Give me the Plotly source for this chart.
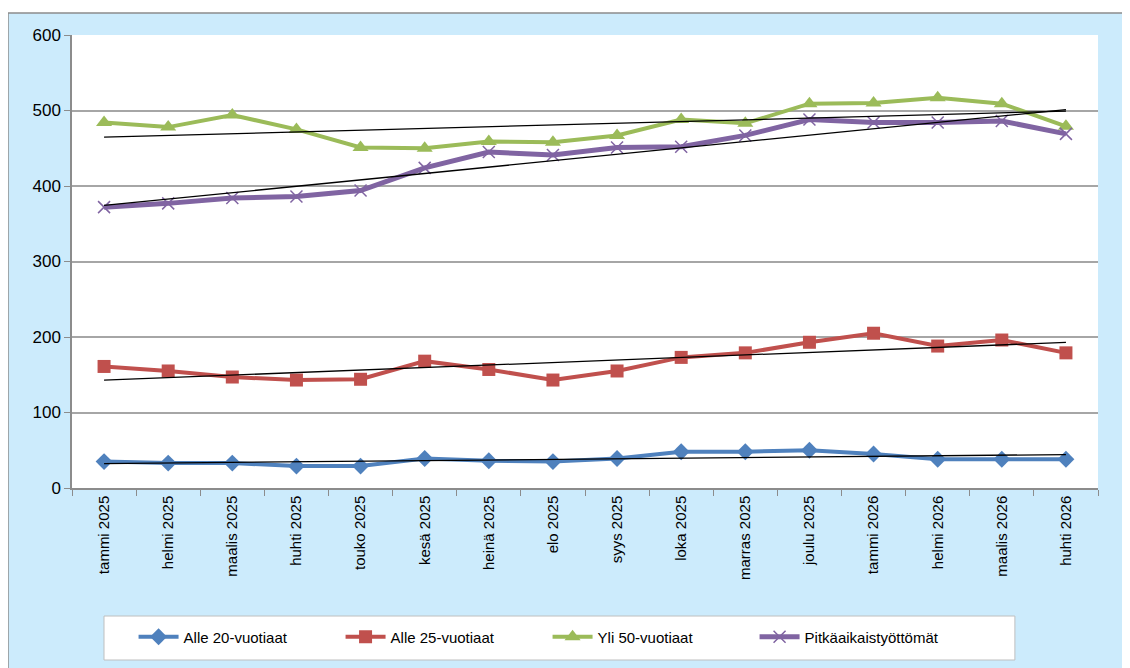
import numpy as np
import plotly.graph_objects as go

categories = ["tammi 2025", "helmi 2025", "maalis 2025", "huhti 2025", "touko 2025", "kesä 2025",
              "heinä 2025", "elo 2025", "syys 2025", "loka 2025", "marras 2025", "joulu 2025",
              "tammi 2026", "helmi 2026", "maalis 2026", "huhti 2026"]

alle20 = [35, 33, 33, 29, 29, 39, 36, 35, 39, 48, 48, 50, 45, 38, 38, 38]
alle25 = [161, 155, 147, 143, 144, 168, 157, 143, 155, 173, 179, 193, 205, 188, 196, 179]
yli50 = [484, 478, 494, 475, 451, 450, 459, 458, 467, 488, 483, 509, 510, 517, 509, 479]
pitka = [372, 377, 384, 386, 394, 424, 445, 441, 451, 452, 467, 488, 484, 484, 486, 469]

series = [
    ("Alle 20-vuotiaat", alle20, "#4F81BD", "diamond", 13, 4),
    ("Alle 25-vuotiaat", alle25, "#C0504D", "square", 13, 4),
    ("Yli 50-vuotiaat", yli50, "#9BBB59", "triangle-up", 14, 4),
    ("Pitkäaikaistyöttömät", pitka, "#8064A2", "x-thin-open", 12, 5),
]

fig = go.Figure()
idx = np.arange(len(categories))
for name, vals, color, sym, msize, lw in series:
    marker = dict(symbol=sym, size=msize, color=color)
    if sym == "x-thin-open":
        marker["line"] = dict(color=color, width=1.5)
    fig.add_trace(go.Scatter(x=categories, y=vals, name=name, mode="lines+markers",
                             line=dict(color=color, width=lw), marker=marker))

for name, vals, color, sym, msize, lw in series:
    k, b = np.polyfit(idx, np.array(vals, dtype=float), 1)
    fig.add_trace(go.Scatter(x=categories, y=list(k * idx + b), mode="lines",
                             line=dict(color="black", width=1.3), showlegend=False,
                             hoverinfo="skip"))

fig.update_layout(
    width=1130, height=668,
    margin=dict(l=64, r=40, t=27, b=188),
    paper_bgcolor="white",
    plot_bgcolor="white",
    font=dict(family="Liberation Sans, Arial, sans-serif", color="black"),
    showlegend=True,
    legend=dict(orientation="h", x=0.06, y=-0.329, xanchor="left", yanchor="middle",
                bgcolor="rgba(0,0,0,0)", font=dict(size=15), entrywidth=152,
                itemwidth=40),
    shapes=[
        dict(type="rect", xref="paper", yref="paper", x0=-0.0624, x1=1.2, y0=-0.6, y1=1.0486,
             line=dict(color="#8C8C8C", width=1.5), fillcolor="#CCEBFC", layer="below"),
        dict(type="rect", xref="x domain", yref="y domain", x0=0, x1=1, y0=0, y1=1,
             line=dict(width=0), fillcolor="white", layer="below"),
        dict(type="rect", xref="paper", yref="paper", x0=0.0312, x1=0.919, y0=-0.3797, y1=-0.2826,
             line=dict(color="#BFBFBF", width=1), fillcolor="white", layer="below"),
    ],
)

fig.update_xaxes(
    type="category", tickangle=-90, tickfont=dict(size=15),
    showline=True, linecolor="#8C8C8C", linewidth=1.5,
    ticks="outside", ticklen=6, tickcolor="#8C8C8C", tickson="boundaries",
    showgrid=False, range=[-0.5, len(categories) - 0.5], mirror=False,
)
fig.update_yaxes(
    range=[0, 600], dtick=100, tickfont=dict(size=17),
    showline=True, linecolor="#8C8C8C", linewidth=1.5,
    ticks="outside", ticklen=6, tickcolor="#8C8C8C",
    showgrid=True, gridcolor="#A6A6A6", gridwidth=1.5, zeroline=False,
)

fig.write_html("out.html")
